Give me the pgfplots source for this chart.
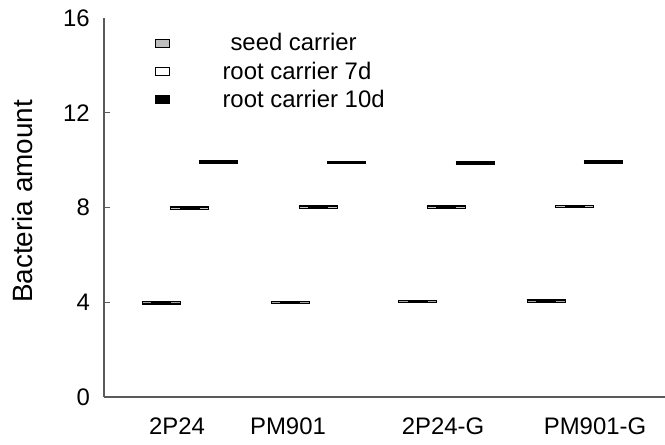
\documentclass[border=0pt]{standalone}
\usepackage{pgfplots}
\pgfplotsset{compat=1.18}
\usepackage{fontspec}
\setmainfont{Liberation Sans}
\definecolor{axisgray}{RGB}{90,90,90}
\definecolor{seedgray}{RGB}{190,190,190}
\begin{document}
\begin{tikzpicture}
\useasboundingbox (0,0) rectangle (665bp,445bp);
\begin{axis}[
  at={(104bp,48bp)}, anchor=south west,
  scale only axis, width=561bp, height=379bp,
  xmin=104, xmax=665, ymin=0, ymax=16,
  axis lines*=left,
  axis line style={axisgray, line width=1.3bp},
  every tick/.style={axisgray, line width=1.1bp},
  xtick={177,288,443,595},
  xticklabels={2P24,PM901,2P24-G,PM901-G},
  xtick style={draw=none},
  ytick={4,8,12},
  extra y ticks={0,16},
  extra y tick style={major tick length=0pt},
  tick align=inside, major tick length=6bp,
  /pgf/number format/assume math mode=true,
  ticklabel style={font=\fontsize{24}{28}\selectfont},
  yticklabel style={inner sep=0pt, anchor=east, xshift=-14bp},
  xticklabel style={inner sep=0pt, anchor=north, yshift=-21bp},
  ylabel={Bacteria amount},
  ylabel style={font=\fontsize{28}{32}\selectfont, at={(axis description cs:-0.1453,0.516)}, anchor=center},
  unbounded coords=jump,
  clip=false,
  legend style={at={(axis cs:155,15.34)}, anchor=north west, draw=none, fill=none,
    inner sep=0pt, outer sep=0pt, row sep=9.5bp,
    nodes={inner sep=0pt, font=\fontsize{24}{28}\selectfont}},
  legend cell align=left,
]
% seed carrier
\addplot[black, line width=3.6bp,
  legend image code/.code={\draw[black,line width=1bp,fill=seedgray] (0bp,-4bp) rectangle (14bp,4bp); \path[draw=none,fill=none] (0bp,0bp) rectangle (67bp,0.1bp);}]
  coordinates {(141.5,3.98) (180.5,3.98) (nan,nan) (270.5,3.99) (309.5,3.99) (nan,nan) (398,4.03) (437,4.03) (nan,nan) (526.5,4.05) (565.5,4.05)};
\addlegendentry{\hspace*{8bp}seed carrier}
% root carrier 7d
\addplot[black, line width=3.6bp,
  legend image code/.code={\draw[black,line width=1bp,fill=white] (0bp,-4bp) rectangle (14bp,4bp); \path[draw=none,fill=none] (0bp,0bp) rectangle (67bp,0.1bp);}]
  coordinates {(170,7.98) (209,7.98) (nan,nan) (298.5,8.02) (337.5,8.02) (nan,nan) (426.5,8.01) (465.5,8.01) (nan,nan) (555,8.04) (594,8.04)};
\addlegendentry{root carrier 7d}
% root carrier 10d
\addplot[black, line width=3.6bp,
  legend image code/.code={\draw[black,line width=1bp,fill=black] (0bp,-4bp) rectangle (14bp,4bp); \path[draw=none,fill=none] (0bp,0bp) rectangle (67bp,0.1bp);}]
  coordinates {(198.5,9.93) (237.5,9.93) (nan,nan) (327,9.90) (366,9.90) (nan,nan) (455.5,9.89) (494.5,9.89) (nan,nan) (583.5,9.92) (622.5,9.92)};
\addlegendentry{root carrier 10d}
% inner fills
\addplot[gray!70, line width=0.6bp, forget plot]
  coordinates {(142.5,3.98) (179.5,3.98) (nan,nan) (271.5,3.99) (308.5,3.99) (nan,nan) (399,4.03) (436,4.03) (nan,nan) (527.5,4.05) (564.5,4.05)};
\addplot[gray!45, line width=0.7bp, forget plot]
  coordinates {(171,7.98) (208,7.98) (nan,nan) (299.5,8.02) (336.5,8.02) (nan,nan) (427.5,8.01) (464.5,8.01) (nan,nan) (556,8.04) (593,8.04)};
% error bar caps
\addplot[black, line width=3.6bp, forget plot]
  coordinates {(151,3.98) (171,3.98) (nan,nan) (280,3.99) (300,3.99) (nan,nan) (407.5,4.03) (427.5,4.03) (nan,nan) (536,4.05) (556,4.05)};
\addplot[black, line width=3.6bp, forget plot]
  coordinates {(179.5,7.98) (199.5,7.98) (nan,nan) (308,8.02) (328,8.02) (nan,nan) (436,8.01) (456,8.01) (nan,nan) (564.5,8.04) (584.5,8.04)};
\end{axis}
\end{tikzpicture}
\end{document}
